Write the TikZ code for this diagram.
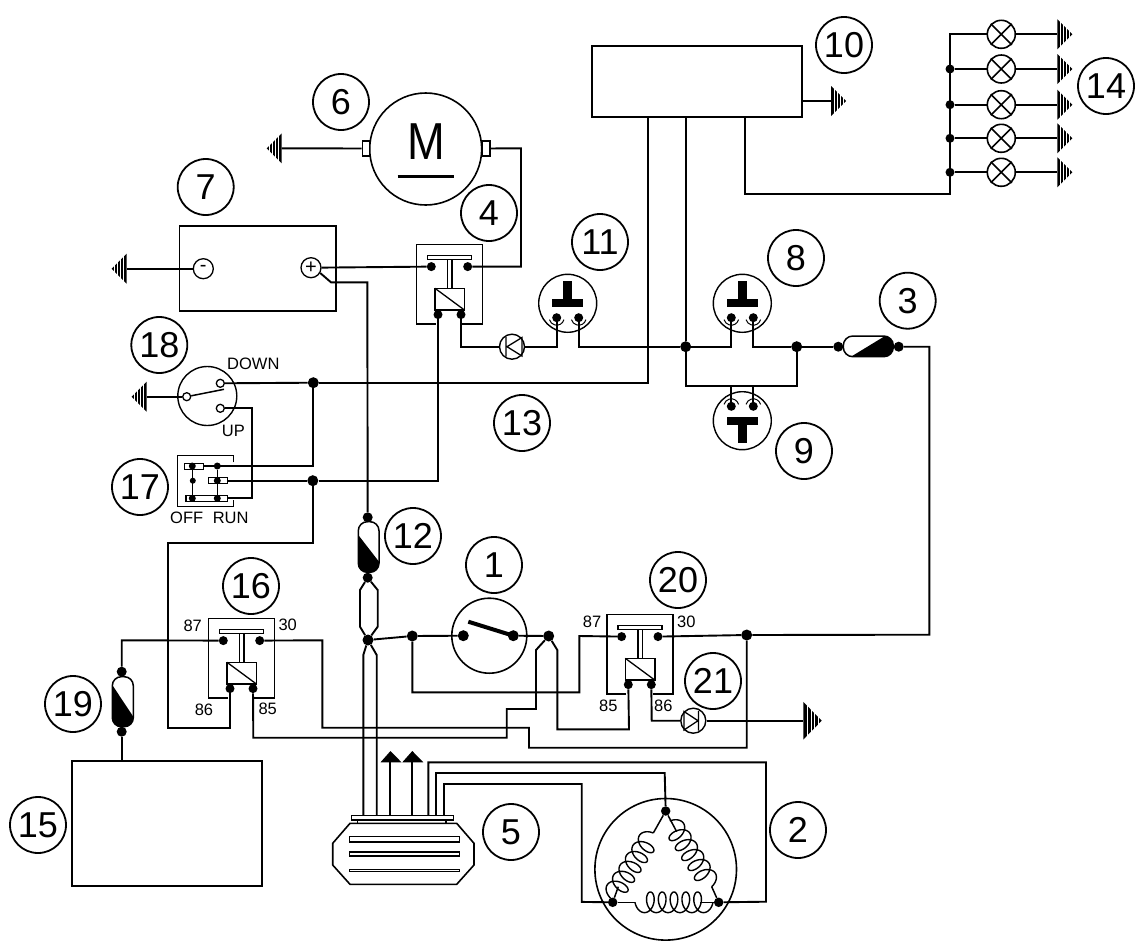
\documentclass[tikz,border=0pt]{standalone}
\usepackage{fontspec}
\setmainfont{Liberation Sans}
\usetikzlibrary{calc}
\tikzset{
  wire/.style={line width=1.9pt,line join=miter},
  thin line/.style={line width=1.5pt},
  num/.style={circle,draw,line width=1.8pt,minimum size=56pt,inner sep=0pt,font=\fontsize{36}{36}\selectfont},
  dot/.style={circle,fill=black,draw=none,inner sep=0pt,minimum size=9pt},
  bigdot/.style={circle,fill=black,draw=none,inner sep=0pt,minimum size=11pt},
  hole/.style={circle,draw,fill=white,line width=1.3pt,inner sep=0pt,minimum size=8pt},
  lamp/.style={circle,draw,fill=white,line width=1.6pt,inner sep=0pt,minimum size=28pt},
  term/.style={circle,draw,fill=white,line width=1.3pt,inner sep=0pt,minimum size=20pt,font=\fontsize{20}{20}\selectfont},
  disc/.style={circle,draw,line width=1.4pt,inner sep=0pt},
  lbl/.style={inner sep=0pt,font=\fontsize{16.5}{16.5}\selectfont},
  tab/.style={draw,fill=white,line width=1.3pt},
}
\newcommand{\gnd}[4]{\begin{scope}[shift={(#1,#2)},rotate=#3]
  \fill (0,{-#4}) -- (15,0) -- (0,#4) -- cycle;
  \foreach \d in {3.4,6.4,9.4,12}{\draw[white,line width=0.8pt] (\d,{-#4-1}) -- (\d,{#4+1});}
\end{scope}}
\newcommand{\coilat}[3]{\begin{scope}[shift={(#1,#2)},rotate=#3]
  \draw[line width=1.4pt] plot[domain=90:2070,samples=320,smooth] ({1.88*rad(\x)-6.5*sin(\x)-1.88*1.5708+6.5},{-10.3*cos(\x)});
\end{scope}}
\newcommand{\relaybox}[3]{\begin{scope}[shift={(#2,#3)}]
  \draw[line width=1.5pt] (19,79.5) -- (0,79.5) -- (0,0) -- (66,0) -- (66,79.5) -- (45.5,79.5);
  \draw[line width=1.4pt] (11,11.3) rectangle (55,15);
  \draw[line width=1.4pt] (31,15) -- (31,44) (35.3,15) -- (35.3,44);
  \draw[line width=1.6pt] (18.3,44) rectangle (47.7,65.7);
  \draw[line width=1.3pt] (18.3,44) -- (47.7,65.7);
  \node[dot] (#1p) at (14.6,22.3) {};
  \node[dot] (#1q) at (51,22.3) {};
  \node[dot] (#1r) at (21.3,70.3) {};
  \node[dot] (#1s) at (44.3,70.3) {};
\end{scope}}
\newcommand{\btn}[4]{\begin{scope}[shift={(#2,#3)},yscale=#4]
  \node[disc,minimum size=58pt] (#1) at (0,0) {};
  \fill (-15.3,-4.3) rectangle (15.3,4);
  \fill (-4.5,-22.6) rectangle (4.5,-4.3);
  \node[dot] (#1a) at (-11,14.4) {};
  \node[dot] (#1b) at (11,14.4) {};
  \draw[line width=1pt] (-11,14.4)+(15:7.5) arc (15:165:7.5);
  \draw[line width=1pt] (11,14.4)+(15:7.5) arc (15:165:7.5);
\end{scope}}
\begin{document}
\begin{tikzpicture}[x=1pt,y=-1pt]
\useasboundingbox (0,0) rectangle (1146,951);

%% numbers
\node[num] (n1) at (494,565) {1};
\node[num] (n2) at (798,830) {2};
\node[num] (n3) at (907.7,300.7) {3};
\node[num] (n4) at (489,213) {4};
\node[num] (n5) at (511,832) {5};
\node[num] (n6) at (341,102) {6};
\node[num] (n7) at (205.7,187) {7};
\node[num] (n8) at (796,258) {8};
\node[num] (n9) at (804,451) {9};
\node[num] (n10) at (844,45) {10};
\node[num] (n11) at (600,242) {11};
\node[num] (n12) at (413,536) {12};
\node[num] (n13) at (522,423) {13};
\node[num] (n14) at (1106,86) {14};
\node[num] (n15) at (38,825) {15};
\node[num] (n16) at (251,586) {16};
\node[num] (n17) at (140,487) {17};
\node[num] (n18) at (159.3,345) {18};
\node[num] (n19) at (73,704) {19};
\node[num] (n20) at (678,580) {20};
\node[num] (n21) at (713,681) {21};

%% top box 10 and lamps
\node[draw,line width=1.6pt,minimum width=210pt,minimum height=71pt,inner sep=0pt] (b10) at (697,81.5) {};
\coordinate (g10) at (831,101);
\draw[wire] (802,101) -- (g10);
\gnd{831}{101}{0}{15}
\foreach \n/\y in {1/34.3,2/69,3/104.7,4/138.3,5/172.3}{
  \node[lamp] (l\n) at (1001.3,\y) {};
  \draw[line width=1.6pt] (l\n.45) -- (l\n.225) (l\n.135) -- (l\n.315);
  \coordinate (lg\n) at (1057.3,\y);
  \draw[wire] (l\n) -- (lg\n);
  \gnd{1057.3}{\y}{0}{15}
}
\foreach \n/\y in {2/69,3/104.7,4/138.3,5/172.3}{
  \node[dot] (ld\n) at (950,\y) {};
  \draw[wire] (ld\n) -- (l\n);
}
\draw[wire] (l1) -- (950,34.3) -- (950,194) -- (745,194) -- (745,117);

%% motor
\node[disc,minimum size=112pt,line width=1.6pt] (mot) at (425.7,149) {};
\node[inner sep=0pt,transform shape,xscale=0.87,font=\fontsize{52}{52}\selectfont] (mM) at (426,142) {M};
\draw[line width=3pt] (397.7,176.7) -- (454.3,176.7);
\node[tab,minimum width=7pt,minimum height=15pt,inner sep=0pt] (mtl) at (365.8,148.5) {};
\node[tab,minimum width=7.5pt,minimum height=15pt,inner sep=0pt] (mtr) at (486.2,148.5) {};
\coordinate (g6) at (281.7,148.3);
\draw[wire] (mtl) -- (g6);
\gnd{281.7}{148.3}{180}{15}

%% battery
\draw[line width=1.6pt] (179.3,226) rectangle (335.7,311);
\node[term] (bm) at (203.3,268.7) {-};
\node[term] (bp) at (311,267.7) {+};
\coordinate (g7) at (126.7,268.7);
\draw[wire] (bm) -- (g7);
\gnd{126.7}{268.7}{180}{15}

%% relays
\relaybox{r4}{416.7}{244.3}
\relaybox{r16}{208.7}{618.3}
\relaybox{r20}{607}{614.3}
\node[lbl] (t87a) at (192.7,626) {87};
\node[lbl] (t30a) at (287.7,625.3) {30};
\node[lbl] (t86a) at (204,710) {86};
\node[lbl] (t85a) at (267.7,709.3) {85};
\node[lbl] (t87b) at (592,622.3) {87};
\node[lbl] (t30b) at (686.3,621.7) {30};
\node[lbl] (t85b) at (608.3,705.7) {85};
\node[lbl] (t86b) at (663.3,706) {86};

%% fuses 12, 19, 3 with their terminals
\begin{scope}
  \clip[rounded corners=9pt] (358.3,521.7) rectangle (379,572.3);
  \fill (358.3,535) -- (379,561.7) -- (379,572.3) -- (358.3,572.3) -- cycle;
\end{scope}
\draw[line width=1.5pt,rounded corners=9pt] (358.3,521.7) rectangle (379,572.3);
\node[dot,minimum size=10pt] (f12t) at (367.7,517.3) {};
\node[dot,minimum size=10pt] (f12b) at (367.7,577.7) {};
\begin{scope}
  \clip[rounded corners=9pt] (112.3,676.7) rectangle (133.3,726.7);
  \fill (112.3,685) -- (133.3,716.7) -- (133.3,726.7) -- (112.3,726.7) -- cycle;
\end{scope}
\draw[line width=1.5pt,rounded corners=9pt] (112.3,676.7) rectangle (133.3,726.7);
\node[dot,minimum size=10pt] (f19t) at (121.7,671.7) {};
\node[dot,minimum size=10pt] (f19b) at (121.7,731.7) {};
\begin{scope}
  \clip[rounded corners=9.5pt] (843.3,336) rectangle (893.3,356.7);
  \fill (851,356.7) -- (885,336) -- (893.3,336) -- (893.3,356.7) -- cycle;
\end{scope}
\draw[line width=1.5pt,rounded corners=9.5pt] (843.3,336) rectangle (893.3,356.7);
\node[dot,minimum size=10pt] (f3l) at (838.3,346.7) {};
\node[dot,minimum size=10pt] (f3r) at (898.7,346.7) {};

%% buttons
\btn{s11}{567.7}{303.3}{1}
\btn{s8}{742.3}{303.3}{1}
\btn{s9}{742.3}{420.7}{-1}

%% diode and pump
\node[disc,minimum size=25pt,fill=white] (diode) at (512,346.7) {};
\draw[line width=1.3pt] (506,337) -- (506,356.5) (507,346.7) -- (522,337.5) -- (522,356) -- cycle;
\node[disc,minimum size=25pt,fill=white] (pump) at (693.3,720.7) {};
\draw[line width=1.3pt] (698.5,711) -- (698.5,730.5) (698,720.7) -- (684,711.5) -- (684,730) -- cycle;

%% main junctions
\node[bigdot] (j1) at (685.7,346.7) {};
\node[bigdot] (j2) at (796.7,346.7) {};
\node[bigdot] (j3) at (313.3,382.7) {};
\node[bigdot] (j4) at (312.8,480.7) {};
\node[bigdot] (j5) at (368,640) {};
\node[bigdot] (j6) at (412.3,636) {};
\node[bigdot] (j7) at (548.7,636) {};
\node[bigdot] (j8) at (746.7,635) {};

%% switch 18
\node[disc,minimum size=59pt] (s18) at (207.3,396) {};
\node[hole] (c18a) at (220.3,383.3) {};
\node[hole] (c18b) at (220.3,408.3) {};
\node[hole] (c18c) at (186.7,396.7) {};
\draw[line width=1.5pt] (c18c) -- (224,389.3);
\coordinate (g18) at (146.7,396.7);
\draw[wire] (c18c) -- (g18);
\gnd{146.7}{396.7}{180}{15}
\node[lbl] (tdown) at (253.3,364.3) {DOWN};
\node[lbl] (tup) at (233.3,431) {UP};

%% switch 17
\draw[line width=1.5pt] (233.3,462.3) -- (233.3,455.7) -- (177.7,455.7) -- (177.7,506.7) -- (233.3,506.7) -- (233.3,500);
\draw[line width=1.3pt,fill=white] (184.3,463.3) rectangle (203.3,469.3);
\draw[line width=1.3pt,fill=white] (208.3,477.7) rectangle (227.3,483.7);
\draw[line width=1.3pt,fill=white] (186,495.7) rectangle (227.7,501.7);
\node[dot,minimum size=7pt] (o1) at (192.3,466) {};
\node[dot,minimum size=6pt] (o2) at (192.8,480.7) {};
\node[dot,minimum size=7pt] (o3) at (192.3,498.3) {};
\node[dot,minimum size=7pt] (o4) at (217.3,466) {};
\node[dot,minimum size=7pt] (o5) at (217.3,480.7) {};
\node[dot,minimum size=7pt] (o6) at (217.3,498.3) {};
\draw[line width=1.5pt] (o1) -- (o3) (o4) -- (o6);
\coordinate (o1e) at (203.3,466);
\coordinate (o5e) at (227.3,480.7);
\coordinate (o6e) at (227.7,498.3);
\node[lbl] (toff) at (186.7,518.3) {OFF};
\node[lbl] (trun) at (230.7,518.3) {RUN};

%% switch 1
\node[disc,minimum size=75pt,line width=1.6pt] (s1) at (489.3,635.7) {};
\node[bigdot] (s1a) at (463.3,635.7) {};
\node[bigdot] (s1b) at (513.3,635.7) {};
\draw[line width=4pt] (468.3,621.7) -- (s1b.center);

%% box 15
\node[draw,line width=1.6pt,minimum width=190pt,minimum height=125pt,inner sep=0pt] (b15) at (167,823.5) {};

%% block 5
\draw[line width=1.6pt,fill=white] (350,823.3) -- (456.7,823.3) -- (474,843.3) -- (474,865) -- (456.7,884.3) -- (350,884.3) -- (332.7,865) -- (332.7,843.3) -- cycle;
\draw[line width=1.1pt] (349.3,836.3) rectangle (459.3,842);
\draw[line width=1.1pt] (349.3,852) rectangle (459.3,856);
\draw[line width=1.1pt] (349.3,869.3) rectangle (459.3,871.3);
\draw[line width=1.4pt] (357.7,820) rectangle (446,823.3);
\draw[line width=1.4pt] (351.7,815.3) rectangle (453.3,820);
\coordinate (c1) at (363.3,815.3);
\coordinate (c2) at (376.7,815.3);
\coordinate (c3) at (390.3,815.3);
\coordinate (c4) at (411.8,815.3);
\coordinate (c5) at (428.3,815.3);
\coordinate (c6) at (436,815.3);
\coordinate (c7) at (444,815.3);
\coordinate (a3) at (390.3,762);
\coordinate (a4) at (411.8,762);
\fill (380.5,762.3) -- (390.5,751) -- (401.5,762.3) -- cycle;
\fill (402.3,762.3) -- (412.3,751) -- (423.3,762.3) -- cycle;

%% alternator 2
\node[disc,minimum size=141.6pt,line width=1.6pt] (gen) at (665.7,869.3) {};
\node[dot,minimum size=9.5pt] (gt) at (665.7,811) {};
\node[dot,minimum size=9.5pt] (gl) at (612.7,902.3) {};
\node[dot,minimum size=9.5pt] (gr) at (718.7,902.3) {};
\coordinate (cl1) at (653.3,833);
\coordinate (cl2) at (618.3,886.7);
\coordinate (cr1) at (676.7,831.7);
\coordinate (cr2) at (711.7,886.7);
\coordinate (cb1) at (635,902.3);
\coordinate (cb2) at (700,902.3);
\draw[thin line] (gt) -- (cl1);
\draw[thin line] (gt) -- (cr1);
\draw[thin line] (cl2) -- (gl);
\draw[thin line] (cr2) -- (gr);
\draw[thin line] (gl) -- (cb1);
\draw[thin line] (cb2) -- (gr);
\coilat{653.3}{833}{236.9}
\coilat{711.7}{886.7}{122.5}
\coilat{635}{902.3}{0}

%% wires
\begin{scope}[wire]
\draw (bp) -- (r4p);
\draw (320.2,273) -- (331,282.3) -- (367.3,282.3) -- (f12t);
\draw (r4q) -- (521,266.6) -- (521,148.3) -- (mtr);
\draw (r4r) -- (438,480.7) -- (j4);
\draw (j4) -- (o5e);
\draw (r4s) -- (461,346.7) -- (diode);
\draw (diode) -- (556.7,346.7) -- (s11a);
\draw (s11b) -- (578.7,346.7) -- (j1);
\draw (j1) -- (731.3,346.7) -- (s8a);
\draw (s8b) -- (753.3,346.7) -- (j2);
\draw (j2) -- (f3l);
\draw (685.7,117) -- (j1);
\draw (j1) -- (685.7,385.7) -- (796.7,385.7) -- (j2);
\draw (731.3,385.7) -- (s9a);
\draw (753.3,385.7) -- (s9b);
\draw (648.3,117) -- (648.3,382.7) -- (j3);
\draw (j3) -- (c18a);
\draw (j3) -- (313.3,466) -- (o1e);
\draw (c18b) -- (251.7,408.3) -- (251.7,498.3) -- (o6e);
\draw (j4) -- (312.8,542.7) -- (168.3,542.7) -- (168.3,727.7) -- (230,727.7) -- (r16r);
\draw (f3r) -- (929.3,346.7) -- (929.3,634.7) -- (j8);
\draw (j8) -- (r20q);
\draw (j8) -- (746.7,747.7) -- (529,747.7) -- (529,727.7) -- (322.3,727.7) -- (322.3,640.3) -- (r16q);
\draw (r16p) -- (121.7,640.3) -- (f19t);
\draw (f19b) -- (121.7,761);
\draw (f12b) -- (360,590) -- (360,626.7) -- (j5);
\draw (f12b) -- (377.7,590) -- (377.7,626.7) -- (j5);
\draw (j5) -- (j6);
\draw (j6) -- (s1a);
\draw (s1b) -- (j7);
\draw (j6) -- (412.3,692.3) -- (579.3,692.3) -- (579.3,636) -- (r20p);
\draw (j5) -- (363.3,655) -- (c1);
\draw (j5) -- (376.7,655) -- (c2);
\draw (c3) -- (a3);
\draw (c4) -- (a4);
\draw (j7) -- (536,650) -- (536,709) -- (506.7,709) -- (506.7,737.7) -- (253.3,737.7) -- (r16s);
\draw (j7) -- (557.3,650) -- (557.3,729.3) -- (629,729.3) -- (r20r);
\draw (r20s) -- (651.7,720.7) -- (pump);
\coordinate (g21) at (803.3,720.7);
\draw (pump) -- (g21);
\draw (c5) -- (428.3,762.3) -- (766,762.3) -- (766,901.7) -- (gr);
\draw (c6) -- (436,773) -- (664.7,773) -- (gt);
\draw (c7) -- (444,784) -- (581.7,784) -- (581.7,901.9) -- (gl);
\end{scope}
\begin{scope}[shift={(803.3,720.7)}]
  \fill (0,-18.8) -- (18.4,0) -- (0,18.8) -- cycle;
  \foreach \d in {4,7.7,11.4,14.8}{\draw[white,line width=0.9pt] (\d,-20) -- (\d,20);}
\end{scope}
\end{tikzpicture}
\end{document}
